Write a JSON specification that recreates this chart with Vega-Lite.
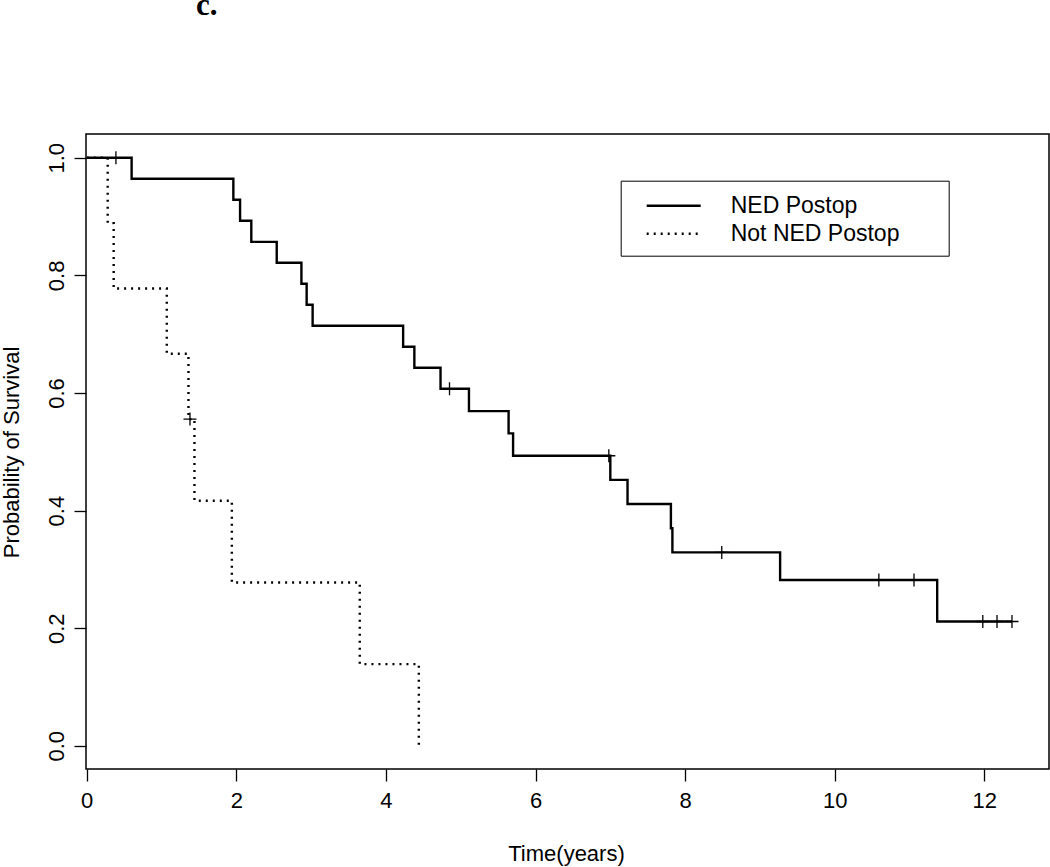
{
  "$schema": "https://vega.github.io/schema/vega-lite/v6.json",
  "width": 963,
  "height": 635,
  "autosize": {"type": "none"},
  "padding": {"left": 86, "top": 134, "right": 1, "bottom": 98},
  "background": "white",
  "title": {"text": "c.", "anchor": "start", "frame": "group", "dx": 110, "dy": 24, "offset": 112, "baseline": "alphabetic", "font": "Liberation Serif", "fontWeight": "bold", "fontSize": 31, "color": "black"},
  "config": {"view": {"stroke": "black", "strokeWidth": 1.5}},
  "datasets": {
    "curves": [
      {"group": "NED Postop", "time": 0, "survival": 1},
      {"group": "NED Postop", "time": 0.6, "survival": 0.9643},
      {"group": "NED Postop", "time": 1.96, "survival": 0.9286},
      {"group": "NED Postop", "time": 2.05, "survival": 0.8929},
      {"group": "NED Postop", "time": 2.2, "survival": 0.8571},
      {"group": "NED Postop", "time": 2.54, "survival": 0.8214},
      {"group": "NED Postop", "time": 2.87, "survival": 0.7857},
      {"group": "NED Postop", "time": 2.94, "survival": 0.75},
      {"group": "NED Postop", "time": 3.02, "survival": 0.7143},
      {"group": "NED Postop", "time": 4.23, "survival": 0.6786},
      {"group": "NED Postop", "time": 4.38, "survival": 0.6429},
      {"group": "NED Postop", "time": 4.73, "survival": 0.6071},
      {"group": "NED Postop", "time": 5.11, "survival": 0.5692},
      {"group": "NED Postop", "time": 5.64, "survival": 0.5313},
      {"group": "NED Postop", "time": 5.7, "survival": 0.4933},
      {"group": "NED Postop", "time": 7.0, "survival": 0.4522},
      {"group": "NED Postop", "time": 7.23, "survival": 0.4111},
      {"group": "NED Postop", "time": 7.81, "survival": 0.37},
      {"group": "NED Postop", "time": 7.83, "survival": 0.3289},
      {"group": "NED Postop", "time": 9.27, "survival": 0.2819},
      {"group": "NED Postop", "time": 11.37, "survival": 0.2114},
      {"group": "NED Postop", "time": 12.37, "survival": 0.2114},
      {"group": "Not NED Postop", "time": 0, "survival": 1},
      {"group": "Not NED Postop", "time": 0.28, "survival": 0.8889},
      {"group": "Not NED Postop", "time": 0.36, "survival": 0.7778},
      {"group": "Not NED Postop", "time": 1.07, "survival": 0.6667},
      {"group": "Not NED Postop", "time": 1.36, "survival": 0.5556},
      {"group": "Not NED Postop", "time": 1.44, "survival": 0.4167},
      {"group": "Not NED Postop", "time": 1.94, "survival": 0.2778},
      {"group": "Not NED Postop", "time": 3.65, "survival": 0.1389},
      {"group": "Not NED Postop", "time": 4.44, "survival": 0}
    ],
    "censors": [
      {"group": "NED Postop", "time": 0.39, "survival": 1},
      {"group": "NED Postop", "time": 4.85, "survival": 0.6071},
      {"group": "NED Postop", "time": 6.98, "survival": 0.4933},
      {"group": "NED Postop", "time": 8.49, "survival": 0.3289},
      {"group": "NED Postop", "time": 10.59, "survival": 0.2819},
      {"group": "NED Postop", "time": 11.06, "survival": 0.2819},
      {"group": "NED Postop", "time": 11.98, "survival": 0.2114},
      {"group": "NED Postop", "time": 12.17, "survival": 0.2114},
      {"group": "NED Postop", "time": 12.37, "survival": 0.2114},
      {"group": "Not NED Postop", "time": 1.38, "survival": 0.5556}
    ],
    "notes": [
      {"label": "p-value <  0.0001"}
    ]
  },
  "encoding": {
    "x": {
      "field": "time", "type": "quantitative", "title": "Time(years)",
      "scale": {"domain": [-0.01, 12.865], "nice": false, "zero": false},
      "axis": {"values": [0, 2, 4, 6, 8, 10, 12], "grid": false, "domain": false, "tickSize": 12, "tickWidth": 1.3, "tickColor": "black", "labelFont": "Liberation Sans", "labelFontSize": 22, "labelColor": "black", "labelPadding": 9, "labelFlush": false, "labelOverlap": false, "titleFont": "Liberation Sans", "titleFontSize": 22, "titleFontWeight": "normal", "titleColor": "black", "titleX": 480, "titleY": 91, "titleBaseline": "alphabetic", "titleAlign": "center"}
    },
    "y": {
      "field": "survival", "type": "quantitative", "title": "Probability of Survival",
      "scale": {"domain": [-0.0395, 1.0405], "nice": false, "zero": false},
      "axis": {"values": [0, 0.2, 0.4, 0.6, 0.8, 1.0], "format": ".1f", "grid": false, "domain": false, "tickSize": 12, "tickWidth": 1.3, "tickColor": "black", "labelFont": "Liberation Sans", "labelFontSize": 22, "labelColor": "black", "labelAngle": -90, "labelAlign": "center", "labelBaseline": "alphabetic", "labelPadding": 11, "labelOverlap": false, "titleFont": "Liberation Sans", "titleFontSize": 22, "titleFontWeight": "normal", "titleColor": "black", "titleAngle": -90, "titleX": -68, "titleY": 318, "titleBaseline": "alphabetic", "titleAlign": "center"}
    }
  },
  "layer": [
    {
      "data": {"name": "curves"},
      "mark": {"type": "line", "interpolate": "step-after", "strokeWidth": 2.4, "color": "black", "strokeCap": "butt"},
      "encoding": {
        "strokeDash": {
          "field": "group", "type": "nominal",
          "scale": {"domain": ["NED Postop", "Not NED Postop"], "range": [[1, 0], [2, 5]]},
          "legend": {"title": null, "orient": "none", "legendX": 534.7, "legendY": 46.7, "strokeColor": "black", "padding": 10, "symbolType": "M-2,0H2", "symbolSize": 729, "symbolStrokeWidth": 2.4, "symbolStrokeColor": "black", "symbolFillColor": "transparent", "symbolOffset": 28, "labelOffset": 42, "labelLimit": 1000, "labelFont": "Liberation Sans", "labelFontSize": 23, "labelColor": "black", "rowPadding": 1, "labelExpr": "datum.label + '\u00a0\u00a0\u00a0\u00a0\u00a0\u00a0\u200b'"}
        }
      }
    },
    {
      "data": {"name": "censors"},
      "mark": {"type": "point", "shape": "M0,-1V1M-1,0H1", "filled": false, "stroke": "black", "strokeWidth": 1.3, "size": 169, "opacity": 1}
    },
    {
      "data": {"name": "notes"},
      "mark": {"type": "text", "align": "left", "baseline": "alphabetic", "font": "Liberation Sans", "fontSize": 22, "color": "black"},
      "encoding": {
        "x": {"datum": 7.04},
        "y": {"datum": 0.127},
        "text": {"field": "label"}
      }
    }
  ]
}
